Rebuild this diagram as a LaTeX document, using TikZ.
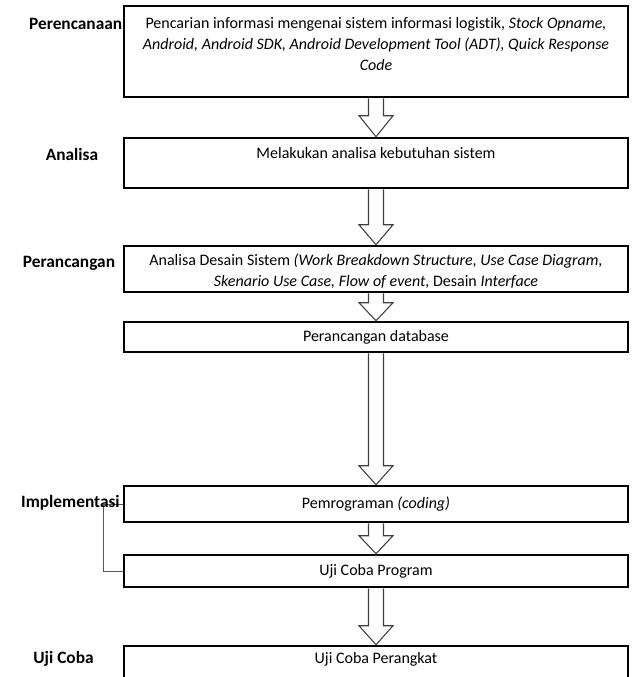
\documentclass[tikz,border=0pt]{standalone}
\usepackage{fontspec}
\setmainfont{Carlito}[Ligatures=NoCommon]
\usetikzlibrary{calc}

\tikzset{
  stage/.style={draw, line width=1.9pt, inner sep=0pt, minimum width=378pt, align=center, font=\fontsize{12}{15.75}\selectfont},
  phase/.style={inner sep=0.75pt, font=\fontsize{13}{15.75}\selectfont\bfseries},
  blockarrow/.style={draw=black!75, line width=0.8pt, line join=miter},
  bracket/.style={draw=black!65, line width=0.7pt}
}

\begin{document}
\begin{tikzpicture}[x=0.75pt,y=0.75pt,yscale=-1,xscale=1]
\useasboundingbox (0,0) rectangle (633,677);
\clip (0,0) rectangle (633,677);

%Shape: Rectangle [id:perencanaan]
\draw (376,51.5) node [stage] (p1) {\begin{minipage}[c][68.25pt][t]{378pt}\centering\vspace*{8.5pt}
Pencarian informasi mengenai sistem informasi logistik, \textit{Stock Opname,}\\
\textit{Android, Android SDK, Android Development Tool (ADT), Quick Response}\\
\textit{Code}
\end{minipage}};
%Shape: Rectangle [id:analisa]
\draw (376,163) node [stage] (p2) {\begin{minipage}[c][37.5pt][t]{378pt}\centering\vspace*{7.1pt}
Melakukan analisa kebutuhan sistem
\end{minipage}};
%Shape: Rectangle [id:desain]
\draw (376,269) node [stage] (p3) {\begin{minipage}[c][34.5pt][t]{378pt}\centering\vspace*{5.5pt}
Analisa Desain Sistem \textit{(Work Breakdown Structure, Use Case Diagram,}\\
\textit{Skenario Use Case, Flow of event,} Desain \textit{Interface}
\end{minipage}};
%Shape: Rectangle [id:database]
\draw (376,337) node [stage, minimum height=22.5pt] (p4) {Perancangan database};
%Shape: Rectangle [id:coding]
\draw (376,504) node [stage, minimum height=27pt] (p5) {Pemrograman \textit{(coding)}};
%Shape: Rectangle [id:ujiprogram]
\draw (376,571) node [stage, minimum height=24pt] (p6) {Uji Coba Program};
%Shape: Rectangle [id:ujiperangkat]
\draw (376,676) node [stage] (p7) {\begin{minipage}[c][45pt][t]{378pt}\centering\vspace*{4.9pt}
Uji Coba Perangkat
\end{minipage}};

%Shape: Block Arrow
\draw [blockarrow] ($(p1.south)+(-7.5,0)$) |- ($(p2.north)+(-17,-21)$) -- (p2.north) -- ($(p2.north)+(17,-21)$) -| ($(p1.south)+(7.5,0)$);
%Shape: Block Arrow
\draw [blockarrow] ($(p2.south)+(-7.5,0)$) |- ($(p3.north)+(-17,-20)$) -- (p3.north) -- ($(p3.north)+(17,-20)$) -| ($(p2.south)+(7.5,0)$);
%Shape: Block Arrow
\draw [blockarrow] ($(p3.south)+(-7.5,0)$) |- ($(p4.north)+(-17,-18)$) -- (p4.north) -- ($(p4.north)+(17,-18)$) -| ($(p3.south)+(7.5,0)$);
%Shape: Block Arrow
\draw [blockarrow] ($(p4.south)+(-7.5,0)$) |- ($(p5.north)+(-17,-19)$) -- (p5.north) -- ($(p5.north)+(17,-19)$) -| ($(p4.south)+(7.5,0)$);
%Shape: Block Arrow
\draw [blockarrow] ($(p5.south)+(-7.5,0)$) |- ($(p6.north)+(-17,-18)$) -- (p6.north) -- ($(p6.north)+(17,-18)$) -| ($(p5.south)+(7.5,0)$);
%Shape: Block Arrow
\draw [blockarrow] ($(p6.south)+(-7.5,0)$) |- ($(p7.north)+(-17,-19)$) -- (p7.north) -- ($(p7.north)+(17,-19)$) -| ($(p6.south)+(7.5,0)$);

%Straight Lines [id:implementasi]
\draw [bracket] (p5.west) -- ++(-19,0) |- (p6.west);

% Text Node
\draw (123.5,24) node [phase, anchor=east] (l1) {Perencanaan};
% Text Node
\draw (72,154) node [phase] (l2) {Analisa};
% Text Node
\draw (69,263) node [phase] (l3) {Perancangan};
% Text Node
\draw (121,503) node [phase, anchor=east] (l4) {Implementasi};
% Text Node
\draw (63.5,659) node [phase] (l5) {Uji Coba};

\end{tikzpicture}
\end{document}
